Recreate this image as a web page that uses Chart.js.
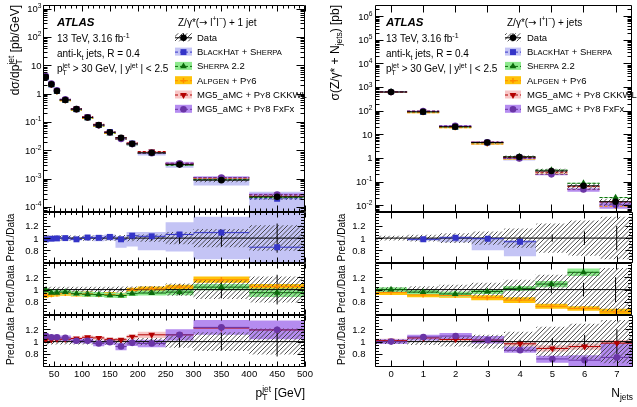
<!DOCTYPE html>
<html>
<head>
<meta charset="utf-8">
<script src="https://cdn.jsdelivr.net/npm/chart.js@4.4.1/dist/chart.umd.min.js"></script>
<style>
  body { margin: 0; background: #fff; }
  #wrap { position: relative; width: 637px; height: 407px; background: #fff; }
  #wrap canvas { position: absolute; left: 0; top: 0; }
</style>
</head>
<body>
<div id="wrap"></div>
<script>
// ---------- leading jet pT (left figure) ----------
const ptEdges = [30, 40, 50, 60, 80, 100, 120, 140, 160, 180, 200, 250, 300, 400, 500];
const ptData = [3.84, 2.13, 1.24, 0.60, 0.285, 0.145, 0.0785, 0.0433, 0.0276, 0.0170, 0.0082, 0.00314, 0.00089, 0.00023];
const ptDataSyst = [0.05, 0.045, 0.045, 0.045, 0.045, 0.045, 0.045, 0.045, 0.05, 0.05, 0.06, 0.10, 0.15, 0.21];
const ptDataStat = [0.005, 0.005, 0.006, 0.007, 0.008, 0.01, 0.012, 0.015, 0.02, 0.025, 0.04, 0.09, 0.14, 0.24];
// predictions / data
const ptBH = [0.98, 0.99, 0.995, 1.0, 0.98, 1.01, 1.005, 1.02, 0.98, 1.04, 1.03, 1.06, 1.09, 0.85];
const ptBHLo = [0.96, 0.97, 0.975, 0.975, 0.96, 0.98, 0.95, 0.96, 0.84, 0.86, 0.80, 0.78, 0.65, 0.25];
const ptBHHi = [1.01, 1.02, 1.02, 1.025, 1.01, 1.035, 1.05, 1.06, 1.03, 1.10, 1.10, 1.26, 1.35, 1.50];
const ptSH = [0.99, 0.95, 0.95, 0.96, 0.935, 0.925, 0.92, 0.91, 0.905, 0.935, 0.945, 0.96, 1.04, 0.95];
const ptSHErr = [0.04, 0.04, 0.04, 0.04, 0.04, 0.04, 0.04, 0.04, 0.04, 0.04, 0.04, 0.05, 0.05, 0.07];
const ptAL = [0.91, 0.92, 0.93, 0.94, 0.93, 0.93, 0.92, 0.92, 0.91, 0.99, 1.01, 1.04, 1.16, 1.05];
const ptALErr = [0.04, 0.04, 0.04, 0.04, 0.04, 0.04, 0.04, 0.04, 0.04, 0.04, 0.04, 0.04, 0.05, 0.04];
const ptCK = [1.03, 1.03, 1.04, 1.04, 1.05, 1.07, 1.06, 1.03, 1.03, 1.08, 1.11, 1.11, 1.22, 1.19];
const ptCKErr = [0.03, 0.03, 0.03, 0.03, 0.03, 0.03, 0.03, 0.03, 0.03, 0.03, 0.05, 0.05, 0.05, 0.05];
const ptFX = [1.095, 1.07, 1.07, 1.06, 1.015, 1.015, 0.97, 0.99, 0.92, 0.98, 0.97, 1.11, 1.23, 1.19];
const ptFXErr = [0.04, 0.04, 0.04, 0.04, 0.04, 0.04, 0.045, 0.04, 0.06, 0.05, 0.06, 0.09, 0.12, 0.15];
const ptTickLabels = [50, 100, 150, 200, 250, 300, 350, 400, 450, 500];

// ---------- jet multiplicity (right figure) ----------
const nEdges = [-0.5, 0.5, 1.5, 2.5, 3.5, 4.5, 5.5, 6.5, 7.5];
const nData = [620, 90, 21, 4.5, 1.1, 0.28, 0.066, 0.014];
const nDataSyst = [0.04, 0.055, 0.08, 0.11, 0.16, 0.24, 0.29, 0.35];
const nDataStat = [0.002, 0.004, 0.008, 0.015, 0.03, 0.06, 0.11, 0.2];
const nBHFirst = 1; // BlackHat+Sherpa only for 1..4 jets
const nBH = [0.98, 1.005, 0.99, 0.94];
const nBHLo = [0.955, 0.93, 0.80, 0.70];
const nBHHi = [1.0, 1.03, 1.02, 0.97];
const nSH = [1.0, 0.96, 0.93, 0.97, 1.02, 1.09, 1.28, 1.5];
const nSHErr = [0.04, 0.04, 0.04, 0.04, 0.04, 0.05, 0.06, 0.06];
const nAL = [0.955, 0.915, 0.905, 0.87, 0.83, 0.73, 0.695, 0.64];
const nALErr = [0.04, 0.04, 0.035, 0.04, 0.045, 0.04, 0.035, 0.05];
const nCK = [1.015, 1.06, 1.035, 1.025, 0.965, 0.89, 0.92, 0.975];
const nCKErr = [0.03, 0.03, 0.03, 0.04, 0.04, 0.05, 0.05, 0.05];
const nFX = [1.0, 1.075, 1.09, 1.025, 0.86, 0.72, 0.70, 0.745];
const nFXLo = [0.96, 1.02, 1.04, 0.97, 0.82, 0.66, 0.56, 0.50];
const nFXHi = [1.04, 1.11, 1.14, 1.09, 0.92, 0.77, 0.78, 0.97];
const nTickLabels = [0, 1, 2, 3, 4, 5, 6, 7];

const ratioTickLabels = [0.8, 1, 1.2];
const leftDecades = [-4, -3, -2, -1, 0, 1, 2, 3];
const rightDecades = [-2, -1, 0, 1, 2, 3, 4, 5, 6];

// ---------- styling ----------
const W = 637, H = 407;
const FONT = '"Liberation Sans", Arial, Helvetica, sans-serif';
const wrap = document.getElementById('wrap');

const hatch = (() => {
  const c = document.createElement('canvas');
  c.width = 9; c.height = 9;
  const g = c.getContext('2d');
  g.strokeStyle = '#3a3a3a';
  g.lineWidth = 0.9;
  g.beginPath();
  for (let k = -9; k <= 18; k += 4.5) { g.moveTo(k, 9); g.lineTo(k + 9, 0); }
  g.stroke();
  return g.createPattern(c, 'repeat');
})();

const ST = {
  data: { pointStyle: 'circle', pointRadius: 3.3, pointBackgroundColor: '#000', pointBorderColor: '#000', pointBorderWidth: 0 },
  bh: { pointStyle: 'rect', pointRadius: 4.2, pointBackgroundColor: '#3434c8', pointBorderColor: '#3434c8', pointBorderWidth: 0 },
  sh: { pointStyle: 'triangle', pointRadius: 3.9, pointBackgroundColor: '#0b6a0b', pointBorderColor: '#0b6a0b', pointBorderWidth: 0 },
  al: { pointStyle: 'cross', pointRadius: 2.6, pointBackgroundColor: '#ff8a00', pointBorderColor: '#ff8a00', pointBorderWidth: 1.4 },
  ck: { pointStyle: 'triangle', pointRotation: 180, pointRadius: 3.9, pointBackgroundColor: '#b30000', pointBorderColor: '#b30000', pointBorderWidth: 0 },
  fx: { pointStyle: 'circle', pointRadius: 3.3, pointBackgroundColor: '#6a35a6', pointBorderColor: '#6a35a6', pointBorderWidth: 0 }
};
const BAND = { bh: '#c4c4f5', sh: '#8eea8e', al: '#ffc20a', ck: '#f8c6c6', fx: '#b58cf0' };
const LINE = { bh: '#3434c8', sh: '#0b6a0b', al: '#ff8a00', ck: '#b30000', fx: '#6a35a6' };

function sym(v, e) { return [v.map((x, i) => x - e[i]), v.map((x, i) => x + e[i])]; }
function series(key, first, val, lo, hi) { return { key, first, val, lo, hi }; }

const ptSeries = [
  series('bh', 0, ptBH, ptBHLo, ptBHHi),
  series('sh', 0, ptSH, ...sym(ptSH, ptSHErr)),
  series('al', 0, ptAL, ...sym(ptAL, ptALErr)),
  series('ck', 0, ptCK, ...sym(ptCK, ptCKErr)),
  series('fx', 0, ptFX, ...sym(ptFX, ptFXErr))
];
const nSeries = [
  series('bh', nBHFirst, nBH, nBHLo, nBHHi),
  series('sh', 0, nSH, ...sym(nSH, nSHErr)),
  series('al', 0, nAL, ...sym(nAL, nALErr)),
  series('ck', 0, nCK, ...sym(nCK, nCKErr)),
  series('fx', 0, nFX, nFXLo, nFXHi)
];

// ---------- dataset builders ----------
function steps(edges, ys) {
  const pts = [];
  ys.forEach((y, i) => pts.push({ x: edges[i], y }, { x: edges[i + 1], y }));
  return pts;
}
function band(edges, lo, hi, color) {
  const base = { type: 'line', borderColor: 'rgba(0,0,0,0)', borderWidth: 0, pointRadius: 0 };
  return [
    Object.assign({ data: steps(edges, hi), fill: false }, base),
    Object.assign({ data: steps(edges, lo), fill: '-1', backgroundColor: color }, base)
  ];
}
function binLines(edges, ys, color, dash) {
  const pts = [];
  ys.forEach((y, i) => pts.push({ x: edges[i], y }, { x: edges[i + 1], y }, { x: edges[i + 1], y: null }));
  return { type: 'line', data: pts, borderColor: color, borderWidth: 1, borderDash: dash || [], pointRadius: 0, fill: false, spanGaps: false };
}
function vErr(edges, lo, hi, color) {
  const pts = [];
  lo.forEach((l, i) => {
    const c = (edges[i] + edges[i + 1]) / 2;
    pts.push({ x: c, y: l }, { x: c, y: hi[i] }, { x: c, y: null });
  });
  return { type: 'line', data: pts, borderColor: color, borderWidth: 1, pointRadius: 0, fill: false, spanGaps: false };
}
function markers(edges, ys, style) {
  const pts = ys.map((y, i) => ({ x: (edges[i] + edges[i + 1]) / 2, y }));
  return Object.assign({ type: 'scatter', data: pts, showLine: false }, style);
}
function stack(ds) { ds.forEach((d, i) => { d.order = ds.length - i; }); return ds; }
function sub(edges, s) { return edges.slice(s.first, s.first + s.val.length + 1); }

function mainSets(edges, data, syst, stat, list) {
  const ds = [];
  const drawOrder = ['bh', 'al', 'sh', 'ck', 'fx'];
  drawOrder.forEach(k => {
    const s = list.find(q => q.key === k);
    const e = sub(edges, s), d = data.slice(s.first, s.first + s.val.length);
    ds.push(...band(e, s.lo.map((r, i) => r * d[i]), s.hi.map((r, i) => r * d[i]), BAND[k]));
  });
  ds.push(...band(edges, data.map((d, i) => d * (1 - syst[i])), data.map((d, i) => d * (1 + syst[i])), hatch));
  list.forEach(s => {
    const e = sub(edges, s), d = data.slice(s.first, s.first + s.val.length);
    const v = s.val.map((r, i) => r * d[i]);
    ds.push(binLines(e, v, LINE[s.key], [3, 2]));
    ds.push(markers(e, v, ST[s.key]));
  });
  ds.push(binLines(edges, data, '#000'));
  ds.push(vErr(edges, data.map((d, i) => d * (1 - stat[i])), data.map((d, i) => d * (1 + stat[i])), '#000'));
  ds.push(markers(edges, data, ST.data));
  return stack(ds);
}
function ratioSets(edges, syst, stat, list, xr) {
  const ds = [];
  list.forEach(s => ds.push(...band(sub(edges, s), s.lo, s.hi, BAND[s.key])));
  ds.push(...band(edges, syst.map(u => 1 - u), syst.map(u => 1 + u), hatch));
  ds.push({ type: 'line', data: [{ x: xr[0], y: 1 }, { x: xr[1], y: 1 }], borderColor: '#000', borderWidth: 1, pointRadius: 0, fill: false });
  ds.push(vErr(edges, stat.map(u => 1 - u), stat.map(u => 1 + u), '#000'));
  list.forEach(s => {
    ds.push(binLines(sub(edges, s), s.val, LINE[s.key]));
    ds.push(markers(sub(edges, s), s.val, ST[s.key]));
  });
  return stack(ds);
}

// ---------- text helpers ----------
// part = [text, kind, family]; kind: sup / sub / sc, a trailing K keeps x for a stacked sub+sup
function richRun(ctx, parts, size, x, y, draw) {
  let cx = 0, hold = null;
  for (const p of parts) {
    const t = p[0], k = p[1] || '', fam = p[2] || FONT;
    let s = size, dy = 0;
    if (k.startsWith('sup')) { s = size * 0.7; dy = -size * 0.42; }
    else if (k.startsWith('sub')) { s = size * 0.7; dy = size * 0.28; }
    else if (k === 'sc') { s = size * 0.8; }
    ctx.font = s + 'px ' + fam;
    const w = ctx.measureText(t).width;
    if (draw) ctx.fillText(t, x + cx, y + dy);
    if (k.endsWith('K')) hold = cx + w;
    else { cx = Math.max(cx + w, hold || 0); hold = null; }
  }
  return cx;
}
function rich(ctx, parts, x, y, size, align) {
  ctx.textAlign = 'left';
  ctx.textBaseline = 'alphabetic';
  const w = richRun(ctx, parts, size, 0, 0, false);
  const x0 = align === 'right' ? x - w : align === 'center' ? x - w / 2 : x;
  richRun(ctx, parts, size, x0, y, true);
}
function richRot(ctx, parts, x, y, size, align) {
  ctx.save();
  ctx.translate(x, y);
  ctx.rotate(-Math.PI / 2);
  rich(ctx, parts, 0, 0, size, align);
  ctx.restore();
}
function pow10(k) {
  if (k === 0) return [['1']];
  if (k === 1) return [['10']];
  return [['10'], [String(k), 'sup']];
}

// ---------- frame, ticks, labels ----------
const deco = {
  id: 'deco',
  afterDraw(chart, args, o) {
    const { ctx, chartArea: a } = chart;
    const sx = chart.scales.x, sy = chart.scales.y;
    const L = Math.round(a.left) + 0.5, R = Math.round(a.right) - 0.5;
    const T = Math.round(a.top) + 0.5, B = Math.round(a.bottom) - 0.5;
    ctx.save();
    ctx.strokeStyle = '#000';
    ctx.lineWidth = 1;
    ctx.beginPath();
    ctx.rect(L, T, R - L, B - T);
    const inX = v => v >= sx.min && v <= sx.max, inY = v => v >= sy.min && v <= sy.max;
    [[o.xMaj, o.xLen[0]], [o.xMin || [], o.xLen[1]]].forEach(([vals, len]) => vals.filter(inX).forEach(v => {
      const p = Math.round(sx.getPixelForValue(v)) + 0.5;
      ctx.moveTo(p, B); ctx.lineTo(p, B - len);
      ctx.moveTo(p, T); ctx.lineTo(p, T + len);
    }));
    [[o.yMaj, o.yLen[0]], [o.yMin || [], o.yLen[1]]].forEach(([vals, len]) => vals.filter(inY).forEach(v => {
      const p = Math.round(sy.getPixelForValue(v)) + 0.5;
      ctx.moveTo(L, p); ctx.lineTo(L + len, p);
      ctx.moveTo(R, p); ctx.lineTo(R - len, p);
    }));
    ctx.stroke();
    ctx.fillStyle = '#000';
    if (o.xLabels) o.xLabels.forEach(v => rich(ctx, [[String(v)]], sx.getPixelForValue(v), o.xLabelY, 9.5, 'center'));
    if (o.yLabels) o.yLabels.forEach(([v, parts]) => rich(ctx, parts, o.yLabelX, sy.getPixelForValue(v) + 3.4, 9.5, 'right'));
    if (o.extra) o.extra(ctx, a);
    ctx.restore();
  }
};

function panel(frame, xs, ys, datasets, opts) {
  const cv = document.createElement('canvas');
  cv.width = W; cv.height = H;
  cv.style.width = W + 'px'; cv.style.height = H + 'px';
  wrap.appendChild(cv);
  return new Chart(cv, {
    type: 'scatter',
    data: { datasets },
    options: {
      responsive: false,
      animation: false,
      events: [],
      layout: { padding: { left: frame[0], top: frame[1], right: W - frame[2], bottom: H - frame[3] } },
      scales: {
        x: Object.assign({ display: false }, xs),
        y: Object.assign({ display: false }, ys)
      },
      plugins: { legend: { display: false }, tooltip: { enabled: false }, deco: opts }
    },
    plugins: [deco]
  });
}

// tick value lists
const ptMajor = ptTickLabels;
const ptMinor = [];
for (let v = 30; v <= 500; v += 10) ptMinor.push(v);
function logMinor(decades) {
  const out = [];
  for (let k = decades[0] - 1; k <= decades[decades.length - 1]; k++)
    for (let m = 2; m <= 9; m++) out.push(m * Math.pow(10, k));
  return out;
}
const ratioMinor = [0.6, 0.65, 0.7, 0.75, 0.85, 0.9, 0.95, 1.05, 1.1, 1.15, 1.25, 1.3, 1.35, 1.4];
const ratioLabels = () => ratioTickLabels.map(v => [v, [[String(v)]]]);

// ---------- legend ----------
const legendItems = [
  { name: [['Data']], key: 'data' },
  { name: [['B'], ['LACK', 'sc'], ['H'], ['AT', 'sc'], [' + S'], ['HERPA', 'sc']], key: 'bh' },
  { name: [['S'], ['HERPA', 'sc'], [' 2.2']], key: 'sh' },
  { name: [['A'], ['LPGEN', 'sc'], [' + P'], ['Y', 'sc'], ['6']], key: 'al' },
  { name: [['MG5_aMC + P'], ['Y', 'sc'], ['8 CKKWL']], key: 'ck' },
  { name: [['MG5_aMC + P'], ['Y', 'sc'], ['8 FxFx']], key: 'fx' }
];
const ARROW = '"DejaVu Sans", sans-serif';
function header(tail) {
  return [['Z/γ*('], ['→', '', ARROW], [' l'], ['+', 'sup'], ['l'], ['−', 'sup'], [tail]];
}
function drawLegend(ctx, head, hx, sx, sw, tx) {
  ctx.fillStyle = '#000';
  rich(ctx, head, hx, 25.5, 10, 'left');
  legendItems.forEach((it, i) => {
    const cy = 37.3 + i * 14.3;
    const isData = it.key === 'data';
    const st = ST[it.key];
    ctx.save();
    ctx.fillStyle = isData ? hatch : BAND[it.key];
    ctx.fillRect(sx, cy - 4, sw, 8);
    ctx.strokeStyle = isData ? '#000' : LINE[it.key];
    ctx.lineWidth = 1;
    ctx.setLineDash(isData ? [] : [3, 2]);
    ctx.beginPath();
    ctx.moveTo(sx, cy + 0.5); ctx.lineTo(sx + sw, cy + 0.5);
    if (isData) { ctx.moveTo(sx + sw / 2, cy - 4); ctx.lineTo(sx + sw / 2, cy + 4); }
    ctx.stroke();
    ctx.setLineDash([]);
    ctx.fillStyle = st.pointBackgroundColor;
    ctx.strokeStyle = st.pointBorderColor;
    ctx.lineWidth = st.pointBorderWidth || 1;
    Chart.helpers.drawPoint(ctx, { pointStyle: st.pointStyle, radius: st.pointRadius, rotation: st.pointRotation || 0, borderWidth: st.pointBorderWidth }, sx + sw / 2, cy + 0.5);
    ctx.restore();
    ctx.fillStyle = '#000';
    rich(ctx, it.name, tx, cy + 3.4, 9.5, 'left');
  });
}
function drawInfo(ctx, x) {
  ctx.fillStyle = '#000';
  ctx.font = 'italic bold 11.5px ' + FONT;
  ctx.textAlign = 'left';
  ctx.fillText('ATLAS', x, 26);
  rich(ctx, [['13 TeV, 3.16 fb'], ['-1', 'sup']], x, 42, 10, 'left');
  rich(ctx, [['anti-k'], ['t', 'sub'], [' jets, R = 0.4']], x, 57, 10, 'left');
  rich(ctx, [['p'], ['T', 'subK'], ['jet', 'sup'], [' > 30 GeV, | y'], ['jet', 'sup'], [' | < 2.5']], x, 72, 10, 'left');
}

// ---------- panels ----------
const rows = [[212, 263], [263, 315], [315, 367]];
const ratioY = { type: 'linear', min: 0.59, max: 1.43 };
const ratioGroups = [['bh'], ['al', 'sh'], ['ck', 'fx']];

// left: main
panel([43, 4, 305, 212], { type: 'linear', min: 30, max: 500 },
  { type: 'logarithmic', min: Math.pow(10, -4.175), max: Math.pow(10, 3.115) },
  mainSets(ptEdges, ptData, ptDataSyst, ptDataStat, ptSeries),
  {
    xMaj: ptMajor, xMin: ptMinor, xLen: [6, 3],
    yMaj: leftDecades.map(k => Math.pow(10, k)), yMin: logMinor(leftDecades), yLen: [8, 4],
    yLabels: leftDecades.map(k => [Math.pow(10, k), pow10(k)]), yLabelX: 41.5,
    extra(ctx) {
      drawInfo(ctx, 57);
      drawLegend(ctx, header(') + 1 jet'), 178, 175, 17, 197);
      richRot(ctx, [['dσ/dp'], ['T', 'subK'], ['jet', 'sup'], [' [pb/GeV]']], 19, 5, 12, 'right');
    }
  });

// left: ratios
ratioGroups.forEach((g, r) => {
  const list = g.map(k => ptSeries.find(s => s.key === k));
  const last = r === 2;
  panel([43, rows[r][0], 305, rows[r][1]], { type: 'linear', min: 30, max: 500 }, ratioY,
    ratioSets(ptEdges, ptDataSyst, ptDataStat, list, [30, 500]),
    {
      xMaj: ptMajor, xMin: ptMinor, xLen: [5, 2.5],
      yMaj: ratioTickLabels, yMin: ratioMinor, yLen: [7, 3.5],
      yLabels: ratioLabels(), yLabelX: 38.5,
      xLabels: last ? ptTickLabels : null, xLabelY: 377,
      extra(ctx, a) {
        richRot(ctx, [['Pred./Data']], 14, (a.top + a.bottom) / 2, 10, 'center');
        if (last) rich(ctx, [['p'], ['T', 'subK'], ['jet', 'sup'], [' [GeV]']], 305, 397, 12, 'right');
      }
    });
});

// right: main
panel([375, 4, 635, 212], { type: 'linear', min: -0.5, max: 7.5 },
  { type: 'logarithmic', min: Math.pow(10, -2.29), max: Math.pow(10, 6.46) },
  mainSets(nEdges, nData, nDataSyst, nDataStat, nSeries),
  {
    xMaj: nTickLabels, xLen: [7, 3],
    yMaj: rightDecades.map(k => Math.pow(10, k)), yMin: logMinor(rightDecades), yLen: [8, 4],
    yLabels: rightDecades.map(k => [Math.pow(10, k), pow10(k)]), yLabelX: 372.5,
    extra(ctx) {
      drawInfo(ctx, 386);
      drawLegend(ctx, header(') + jets'), 507, 505, 16, 527);
      richRot(ctx, [['σ(Z/γ* + N'], ['jets', 'sub'], [') [pb]']], 339, 5, 12, 'right');
    }
  });

// right: ratios
ratioGroups.forEach((g, r) => {
  const list = g.map(k => nSeries.find(s => s.key === k));
  const last = r === 2;
  panel([375, rows[r][0], 635, rows[r][1]], { type: 'linear', min: -0.5, max: 7.5 }, ratioY,
    ratioSets(nEdges, nDataSyst, nDataStat, list, [-0.5, 7.5]),
    {
      xMaj: nTickLabels, xLen: [6, 3],
      yMaj: ratioTickLabels, yMin: ratioMinor, yLen: [7, 3.5],
      yLabels: ratioLabels(), yLabelX: 365.5,
      xLabels: last ? nTickLabels : null, xLabelY: 377,
      extra(ctx, a) {
        richRot(ctx, [['Pred./Data']], 345, (a.top + a.bottom) / 2, 10, 'center');
        if (last) rich(ctx, [['N'], ['jets', 'sub']], 633, 397, 12, 'right');
      }
    });
});
</script>
</body>
</html>
